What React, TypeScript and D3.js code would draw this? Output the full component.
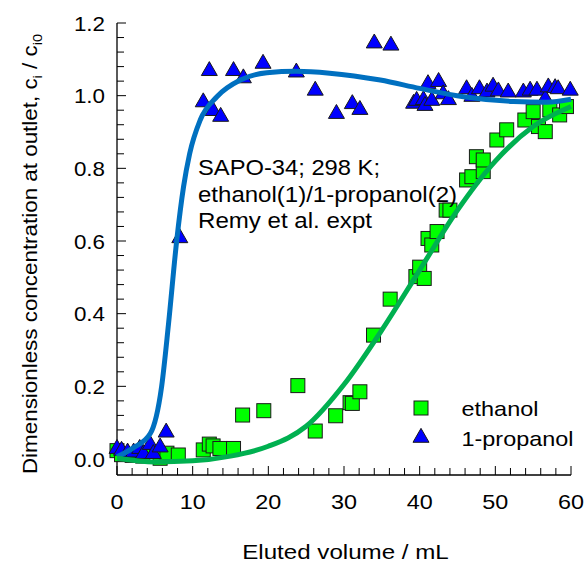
import React from "react";
import * as d3 from "d3";

// Measured breakthrough data (eluted volume in mL, c_i / c_i0)
const ethanolX = [0, 0.6, 2.0, 3.4, 5.7, 6.6, 8.1, 11.4, 12.2, 12.7, 13.6, 15.4, 16.6, 19.4, 23.9, 26.2, 28.9, 30.8, 31.1, 32.1, 33.9, 36.1, 39.5, 40.0, 40.6, 41.1, 41.6, 42.3, 43.5, 44.0, 46.2, 46.9, 47.5, 48.4, 48.4, 50.2, 51.5, 53.9, 55.0, 55.7, 56.6, 57.2, 58.5, 59.4];
const ethanolY = [0.023, 0.012, 0.01, 0.008, 0.002, 0.016, 0.011, 0.025, 0.041, 0.036, 0.029, 0.029, 0.121, 0.133, 0.202, 0.077, 0.119, 0.155, 0.153, 0.185, 0.341, 0.44, 0.502, 0.528, 0.497, 0.607, 0.589, 0.626, 0.685, 0.685, 0.768, 0.777, 0.832, 0.791, 0.823, 0.878, 0.906, 0.933, 0.956, 0.915, 0.901, 0.961, 0.947, 0.97];

const propanolX = [0, 0.6, 1.4, 2.2, 3.0, 3.5, 4.4, 4.8, 5.7, 6.5, 8.3, 11.4, 12.2, 12.7, 13.7, 15.4, 16.7, 19.3, 23.7, 26.2, 29.0, 31.1, 32.1, 34.0, 36.2, 39.2, 39.6, 40.5, 40.7, 41.1, 41.6, 42.5, 43.1, 43.8, 46.2, 46.9, 47.9, 48.9, 49.7, 50.4, 51.7, 53.7, 54.6, 55.5, 56.6, 57.0, 57.9, 58.3, 59.9];
const propanolY = [0.03, 0.025, 0.02, 0.02, 0.03, 0.016, 0.041, 0.016, 0.034, 0.075, 0.61, 0.984, 1.07, 0.96, 0.944, 1.07, 1.05, 1.09, 1.066, 1.016, 0.952, 0.979, 0.963, 1.146, 1.14, 0.98, 0.988, 0.99, 0.974, 1.034, 0.988, 1.04, 1.006, 0.99, 1.02, 0.999, 1.02, 1.011, 1.027, 1.014, 1.011, 1.011, 1.016, 1.016, 0.993, 1.025, 1.023, 1.02, 1.016];

// Model curves
const propanolModelX = [0, 2.1, 4.4, 5.9, 6.8, 7.9, 8.8, 9.6, 11.0, 13.2, 16.3, 19.8, 23.7, 28.1, 34.8, 40.0, 45.8, 52.4, 56.8, 60];
const propanolModelY = [0.006, 0.03, 0.07, 0.2, 0.37, 0.603, 0.75, 0.84, 0.933, 0.997, 1.043, 1.063, 1.067, 1.062, 1.043, 1.02, 0.997, 0.984, 0.982, 0.99];

const ethanolModelX = [0, 5, 10, 15, 20, 25, 30, 35, 40, 45, 50, 55, 60];
const ethanolModelY = [0.002, -0.008, -0.005, 0.008, 0.035, 0.09, 0.205, 0.355, 0.52, 0.685, 0.82, 0.915, 0.97];

const xTickLabels = [0, 10, 20, 30, 40, 50, 60];
const yTickLabels = [0, 0.2, 0.4, 0.6, 0.8, 1.0, 1.2];

const annotationLines = ["SAPO-34; 298 K;", "ethanol(1)/1-propanol(2)", "Remy et al. expt"];
const annotationWidths = [182, 259, 174];

const W = 587;
const H = 564;
const FONT = "'Liberation Sans', Arial, sans-serif";
const SX = 1.15; // horizontal stretch of the lettering

type TxtProps = {
  x: number;
  y: number;
  size: number;
  anchor?: "start" | "middle" | "end";
  sx?: number;
  rotate?: number;
  children: React.ReactNode;
};

function Txt({ x, y, size, anchor = "start", sx = SX, rotate = 0, children }: TxtProps) {
  return (
    <text
      transform={`translate(${x},${y}) rotate(${rotate}) scale(${sx},1)`}
      textAnchor={anchor}
      fontSize={size}
      fill="#000"
    >
      {children}
    </text>
  );
}

export default function App() {
  const x = d3.scaleLinear().domain([0, 60]).range([117, 571]);
  const y = d3.scaleLinear().domain([0, 1.2]).range([459, 23]);
  const axisY = 475;

  const line = d3
    .line<[number, number]>()
    .x((d) => x(d[0]))
    .y((d) => y(d[1]))
    .curve(d3.curveMonotoneX);

  const propModel = line(propanolModelX.map((v, i) => [v, propanolModelY[i]] as [number, number])) || "";
  const ethModel = line(ethanolModelX.map((v, i) => [v, ethanolModelY[i]] as [number, number])) || "";

  const xMinor = d3.range(0, 60.001, 2);
  const yMinor = d3.range(0, 1.2001, 0.04);

  const sq = 14;
  const tri = (cx: number, cy: number, s = 16) => {
    const h = s * 0.87;
    return `M${cx},${cy - h * 0.62}L${cx + s / 2},${cy + h * 0.38}L${cx - s / 2},${cy + h * 0.38}Z`;
  };

  return (
    <svg width={W} height={H} style={{ position: "absolute", left: 0, top: 0, fontFamily: FONT }}>
      <rect width={W} height={H} fill="#fff" />

      {/* axes */}
      <line x1={x(0)} x2={x(0)} y1={y(1.2)} y2={axisY} stroke="#000" strokeWidth={1.3} />
      <line x1={x(0)} x2={x(60)} y1={axisY} y2={axisY} stroke="#000" strokeWidth={1.3} />
      {yMinor.map((v, i) => (
        <line key={"yt" + i} x1={x(0)} x2={x(0) + (i % 5 === 0 ? 9 : 7)} y1={y(v)} y2={y(v)} stroke="#000" strokeWidth={1} />
      ))}
      {xMinor.map((v, i) => (
        <line key={"xt" + i} x1={x(v)} x2={x(v)} y1={axisY} y2={axisY - (i % 5 === 0 ? 9 : 7)} stroke="#000" strokeWidth={1} />
      ))}
      {yTickLabels.map((v) => (
        <Txt key={"yl" + v} x={105} y={y(v) + 7.5} size={20} anchor="end" sx={1.12}>
          {v.toFixed(1)}
        </Txt>
      ))}
      {xTickLabels.map((v) => (
        <Txt key={"xl" + v} x={x(v)} y={509} size={20} anchor="middle" sx={1.17}>
          {v}
        </Txt>
      ))}
      <Txt x={345.5} y={559} size={21} anchor="middle" sx={1.15}>
        Eluted volume / mL
      </Txt>
      <Txt x={37} y={254} size={20} anchor="middle" rotate={-90} sx={1.12}>
        Dimensionless concentration at outlet, c
        <tspan fontSize={13} dy={5}>i</tspan>
        <tspan dy={-5}> / c</tspan>
        <tspan fontSize={13} dy={5}>i0</tspan>
      </Txt>

      {/* data */}
      {ethanolX.map((v, i) => (
        <rect key={"e" + i} x={x(v) - sq / 2} y={y(ethanolY[i]) - sq / 2} width={sq} height={sq} fill="#00ff00" stroke="#1a1a1a" strokeWidth={1} />
      ))}
      {propanolX.map((v, i) => (
        <path key={"p" + i} d={tri(x(v), y(propanolY[i]))} fill="#0000ff" stroke="#1a1a1a" strokeWidth={1} />
      ))}

      <path d={propModel} fill="none" stroke="#0070c0" strokeWidth={5} />
      <path d={ethModel} fill="none" stroke="#00b050" strokeWidth={5} />

      {/* annotation */}
      {annotationLines.map((t, i) => (
        <text
          key={"a" + i}
          x={198}
          y={175 + i * 26.7}
          fontSize={22}
          fill="#000"
          textLength={annotationWidths[i]}
          lengthAdjust="spacingAndGlyphs"
        >
          {t}
        </text>
      ))}

      {/* legend */}
      <rect x={421 - sq / 2} y={408 - sq / 2} width={sq} height={sq} fill="#00ff00" stroke="#1a1a1a" strokeWidth={1} />
      <path d={tri(421, 437)} fill="#0000ff" stroke="#1a1a1a" strokeWidth={1} />
      <text x={461.5} y={416} fontSize={21} fill="#000" textLength={77} lengthAdjust="spacingAndGlyphs">ethanol</text>
      <text x={461.5} y={446} fontSize={21} fill="#000" textLength={112} lengthAdjust="spacingAndGlyphs">1-propanol</text>
    </svg>
  );
}
